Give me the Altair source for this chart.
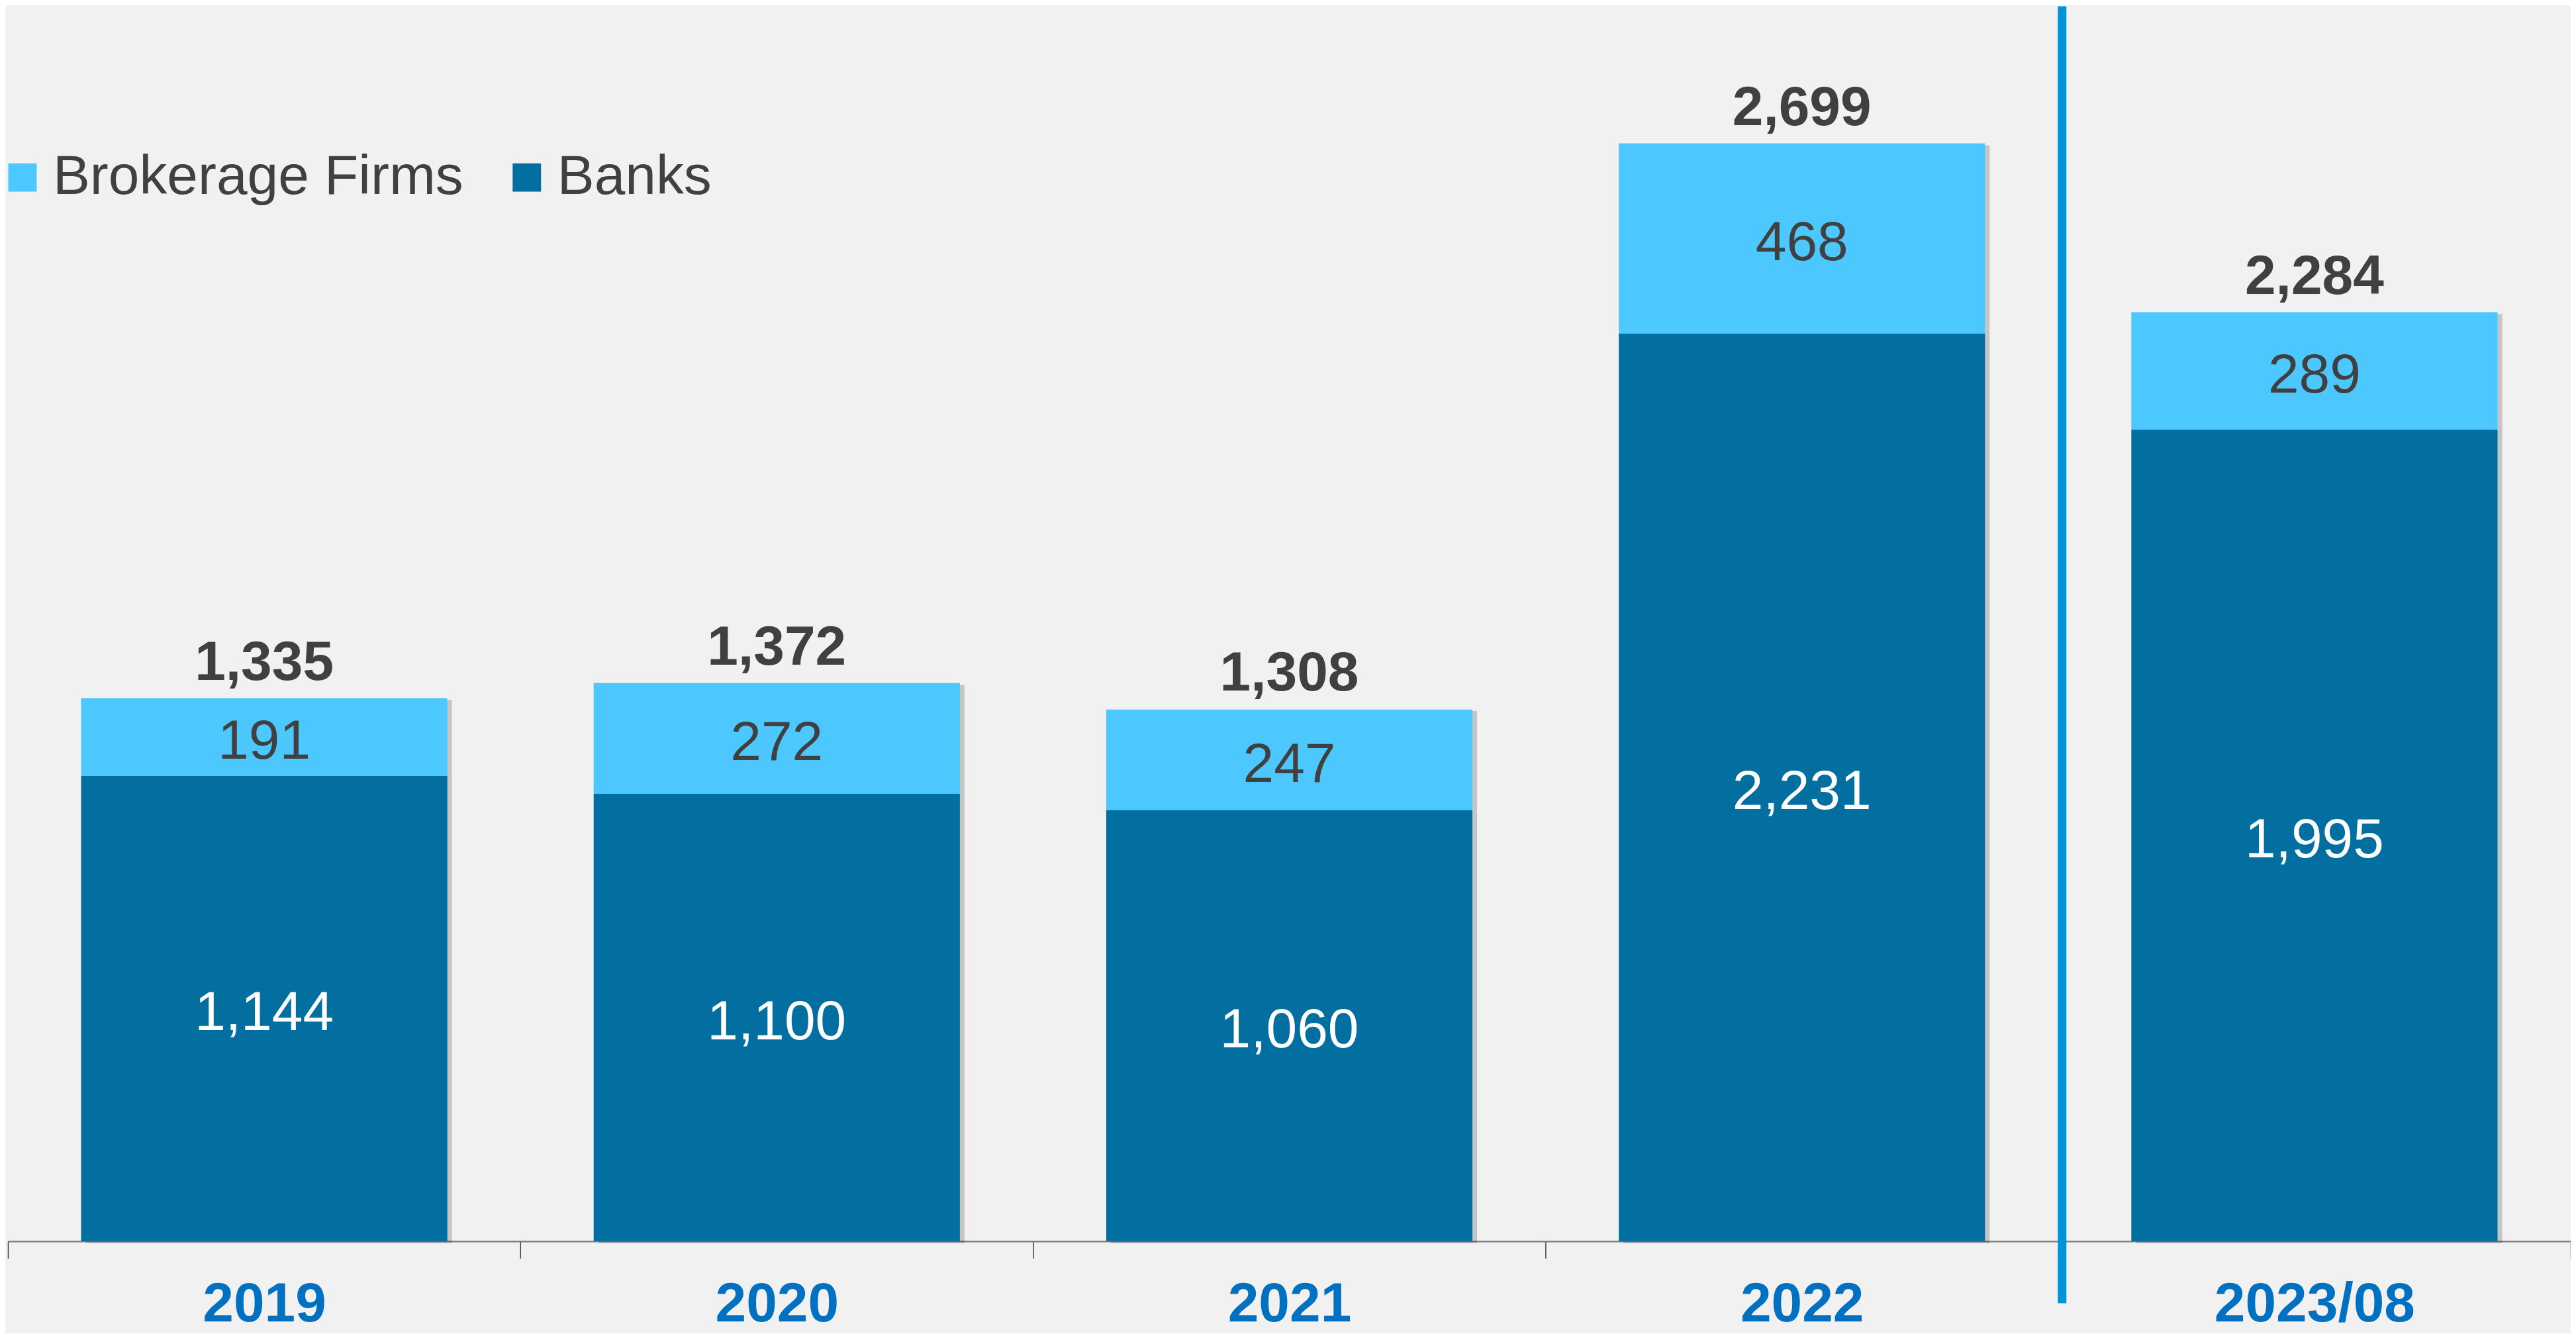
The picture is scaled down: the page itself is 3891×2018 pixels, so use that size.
import altair as alt
import pandas as pd

years = ["2019", "2020", "2021", "2022", "2023/08"]
banks = [1144, 1100, 1060, 2231, 1995]
brokerage = [191, 272, 247, 468, 289]
totals = [1335, 1372, 1308, 2699, 2284]
series_names = ["Brokerage Firms", "Banks"]
series_colors = ["#4DC8FF", "#036EA0"]
divider_year = ["2023/08"]

rows = []
for i, yr in enumerate(years):
    rows.append({"year": yr, "series": "Banks", "value": banks[i], "order": 0,
                 "label": f"{banks[i]:,}"})
    rows.append({"year": yr, "series": "Brokerage Firms", "value": brokerage[i], "order": 1,
                 "label": f"{brokerage[i]:,}"})
seg = pd.DataFrame(rows)
tot = pd.DataFrame({"year": years, "total": totals, "label": [f"{t:,}" for t in totals]})
div = pd.DataFrame({"year": divider_year})

FONT = "Liberation Sans, Arial, sans-serif"
FS = 84
BAR_W = alt.RelativeBandSize(0.7145)

xscale = alt.Scale(paddingInner=0, paddingOuter=0)
xaxis = alt.Axis(title=None, tickBand="extent", labelAngle=0, labelFont=FONT,
                 labelFontSize=FS, labelFontWeight="bold", labelColor="#0070C0",
                 labelBaseline="alphabetic", labelPadding=95, labelLimit=3000,
                 tickSize=26, tickColor="#404040", tickWidth=1.5, domainColor="#7F7F7F",
                 domainWidth=2.5, grid=False)
x = alt.X("year:N", sort=years, scale=xscale, axis=xaxis)
yscale = alt.Scale(domain=[0, 3036], nice=False, zero=True)

base = alt.Chart(seg).transform_stack(
    stack="value", groupby=["year"],
    sort=[alt.SortField("order", order="ascending")],
    as_=["v0", "v1"],
).transform_calculate(mid="(datum.v0 + datum.v1) / 2")

shadow = alt.Chart(tot).mark_bar(color="#000000", opacity=0.18, xOffset=7, yOffset=3,
                                 width=BAR_W).encode(
    x=x, y=alt.Y("total:Q", scale=yscale, axis=None)
)

bars = base.mark_bar(width=BAR_W).encode(
    x=x,
    y=alt.Y("v0:Q", scale=yscale, axis=None),
    y2="v1:Q",
    color=alt.Color(
        "series:N",
        scale=alt.Scale(domain=series_names, range=series_colors),
        legend=alt.Legend(
            title=None, orient="none", legendX=-20, legendY=217, direction="horizontal",
            symbolType="square", symbolSize=1849, symbolStrokeWidth=0, symbolOpacity=1,
            labelFont=FONT, labelFontSize=FS, labelColor="#404040", labelOffset=4,
            labelLimit=3000, columnPadding=54, padding=0,
        ),
    ),
)

inner = base.mark_text(font=FONT, fontSize=FS, baseline="middle", dy=8).encode(
    x=x,
    y=alt.Y("mid:Q", scale=yscale, axis=None),
    text="label:N",
    color=alt.condition("datum.series == 'Banks'", alt.value("#FFFFFF"), alt.value("#404040")),
)

top = alt.Chart(tot).mark_text(font=FONT, fontSize=FS, fontWeight="bold", color="#404040",
                               baseline="alphabetic", dy=-28).encode(
    x=x, y=alt.Y("total:Q", scale=yscale, axis=None), text="label:N"
)

rule = alt.Chart(div).mark_rule(color="#0094D6", strokeWidth=13, xOffset=6).encode(
    x=alt.X("year:N", sort=years, scale=xscale, axis=xaxis, bandPosition=0),
    y=alt.value(0),
    y2=alt.value(1962),
)

chart = alt.layer(shadow, bars, inner, top, rule).properties(
    width=3877, height=1868,
    autosize=alt.AutoSizeParams(type="none"),
    padding={"left": 4, "top": 0, "right": 0, "bottom": 138},
    background="#F1F1F1",
).configure_view(stroke=None)

chart.save("out.html", embed_options={"renderer": "svg", "actions": False})
